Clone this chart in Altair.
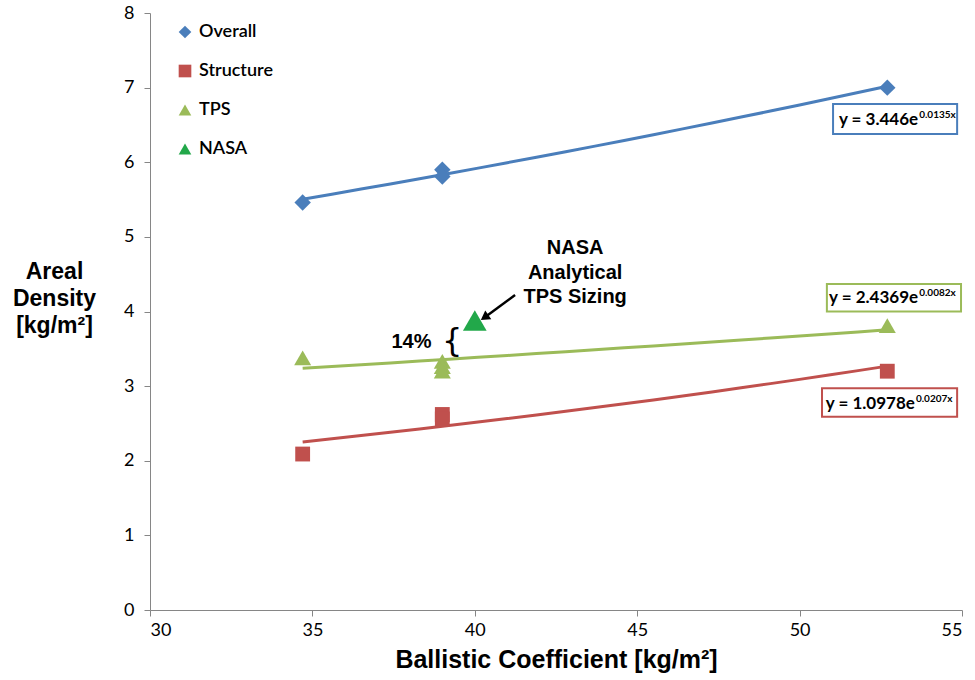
import altair as alt
import pandas as pd

# --- measured points -------------------------------------------------------
series_names = ["Overall", "Structure", "TPS", "NASA"]
series_colors = ["#4A7EBB", "#C0504D", "#9BBB59", "#22A84A"]
series_shapes = ["diamond", "square", "triangle-up", "triangle-up"]
series_sizes = [270, 220, 290, 560]

overall_bc = [34.7, 39.0, 39.0, 52.7]
overall_density = [5.46, 5.90, 5.81, 7.00]

structure_bc = [34.7, 39.0, 39.0, 52.7]
structure_density = [2.09, 2.62, 2.56, 3.20]

tps_bc = [34.7, 39.0, 39.0, 39.0, 52.7]
tps_density = [3.38, 3.33, 3.26, 3.20, 3.81]

nasa_bc = [40.0]
nasa_density = [3.88]

# --- exponential trend lines  y = a * exp(b * x) ---------------------------
trend_series = ["Overall", "Structure", "TPS"]
trend_colors = ["#4A7EBB", "#C0504D", "#9BBB59"]
trend_a = [3.446, 1.0978, 2.4369]
trend_b = [0.0135, 0.0207, 0.0082]
trend_x0 = [34.7, 34.7, 34.7]
trend_x1 = [52.7, 52.7, 52.7]

# equation labels: text, exponent, box corners, anchor
eq_main = ["y = 3.446e", "y = 1.0978e", "y = 2.4369e"]
eq_exp = ["0.0135x", "0.0207x", "0.0082x"]
eq_anchor_x = [53.65, 53.55, 53.65]
eq_y = [6.56, 2.76, 4.18]
box_x0 = [51.03, 50.69, 50.84]
box_x1 = [54.85, 54.85, 54.97]
box_y0 = [6.38, 2.59, 4.00]
box_y1 = [6.78, 2.97, 4.37]

x_ticks = [30, 35, 40, 45, 50, 55]
y_ticks = [0, 1, 2, 3, 4, 5, 6, 7, 8]

points = pd.DataFrame(
    {
        "series": ["Overall"] * len(overall_bc)
        + ["Structure"] * len(structure_bc)
        + ["TPS"] * len(tps_bc)
        + ["NASA"] * len(nasa_bc),
        "bc": overall_bc + structure_bc + tps_bc + nasa_bc,
        "density": overall_density + structure_density + tps_density + nasa_density,
    }
)

trends = pd.DataFrame(
    {
        "series": trend_series,
        "col": trend_colors,
        "a": trend_a,
        "b": trend_b,
        "x0": trend_x0,
        "x1": trend_x1,
    }
)

equations = pd.DataFrame(
    {
        "series": trend_series,
        "col": trend_colors,
        "main": eq_main,
        "exp": eq_exp,
        "ax": eq_anchor_x,
        "ay": eq_y,
        "bx0": box_x0,
        "bx1": box_x1,
        "by0": box_y0,
        "by1": box_y1,
    }
)

x_scale = alt.Scale(domain=[30, 55], nice=False, zero=False)
y_scale = alt.Scale(domain=[0, 8], nice=False)
color_scale = alt.Scale(domain=series_names, range=series_colors)
shape_scale = alt.Scale(domain=series_names, range=series_shapes)

x_axis = alt.Axis(
    values=x_ticks,
    format="d",
    title="Ballistic Coefficient [kg/m²]",
    titleFont="Liberation Sans",
    titleFontSize=25,
    titleFontWeight="bold",
    titleColor="black",
    titleY=57,
    titleBaseline="alphabetic",
    labelFontSize=18,
    labelPadding=5,
)
y_axis = alt.Axis(
    values=y_ticks,
    format="d",
    title=["Areal", "Density", "[kg/m²]"],
    titleAngle=0,
    titleAlign="center",
    titleBaseline="alphabetic",
    titleX=-96,
    titleY=265,
    titleLineHeight=27,
    titleFont="Liberation Sans",
    titleFontSize=23,
    titleFontWeight="bold",
    titleColor="black",
    labelFontSize=18,
    labelPadding=10,
)

legend = alt.Legend(
    title=None,
    orient="none",
    legendX=26,
    legendY=10,
    labelFont="Lato",
    labelFontSize=18,
    labelFontWeight=600,
    labelColor="black",
    symbolSize=160,
    symbolStrokeWidth=0,
    rowPadding=21,
    labelOffset=5,
)

X = alt.X("bc:Q", scale=x_scale, axis=x_axis)
Y = alt.Y("density:Q", scale=y_scale, axis=y_axis)

trend_layer = (
    alt.Chart(trends)
    .transform_calculate(t="sequence(0, 1.0001, 0.05)")
    .transform_flatten(["t"])
    .transform_calculate(bc="datum.x0 + datum.t * (datum.x1 - datum.x0)")
    .transform_calculate(density="datum.a * exp(datum.b * datum.bc)")
    .mark_line(strokeWidth=3)
    .encode(
        x=X,
        y=Y,
        color=alt.Color("col:N", scale=None),
        detail="series:N",
        order="t:Q",
    )
)


def point_layer(size, name=None):
    # one marker layer per series so each keeps its own marker size;
    # the layer without a series name draws nothing and sets the legend's symbols
    base = alt.Chart(points)
    if name is None:
        base = base.transform_filter("false")
    else:
        base = base.transform_filter(alt.datum.series == name)
    return base.mark_point(filled=True, opacity=1, size=size).encode(
        x=X,
        y=Y,
        color=alt.Color("series:N", scale=color_scale, legend=legend),
        shape=alt.Shape("series:N", scale=shape_scale, legend=legend),
    )


point_layers = [point_layer(160)] + [
    point_layer(s, n) for n, s in zip(series_names, series_sizes)
]

box_layer = (
    alt.Chart(equations)
    .mark_rect(fill="white", strokeWidth=2)
    .encode(
        x=alt.X("bx0:Q", scale=x_scale),
        x2="bx1:Q",
        y=alt.Y("by0:Q", scale=y_scale),
        y2="by1:Q",
        stroke=alt.Stroke("col:N", scale=None),
    )
)

eq_main_layer = (
    alt.Chart(equations)
    .mark_text(
        align="right",
        baseline="middle",
        font="Lato",
        fontSize=17,
        fontWeight="bold",
        color="black",
    )
    .encode(x=alt.X("ax:Q", scale=x_scale), y=alt.Y("ay:Q", scale=y_scale), text="main:N")
)

eq_exp_layer = (
    alt.Chart(equations)
    .mark_text(
        align="left",
        baseline="middle",
        font="Lato",
        fontSize=10,
        fontWeight="bold",
        color="black",
        dx=1,
        dy=-5,
    )
    .encode(x=alt.X("ax:Q", scale=x_scale), y=alt.Y("ay:Q", scale=y_scale), text="exp:N")
)

# callout for the analytical sizing point
callout_text = ["NASA\nAnalytical\nTPS Sizing"]
callout_x = [43.09]
callout_y = [4.85]
pct_text = ["14%"]
pct_x = [38.05]
pct_y = [3.59]
brace_x = [39.30]
brace_y = [3.60]
arrow_x = [41.24, 40.30]
arrow_y = [4.22, 3.92]

callout = (
    alt.Chart(pd.DataFrame({"x": callout_x, "y": callout_y, "t": callout_text}))
    .mark_text(
        font="Liberation Sans",
        fontSize=20,
        fontWeight="bold",
        lineBreak="\n",
        lineHeight=24.5,
        align="center",
        baseline="middle",
        color="black",
    )
    .encode(x=alt.X("x:Q", scale=x_scale), y=alt.Y("y:Q", scale=y_scale), text="t:N")
)

pct = (
    alt.Chart(pd.DataFrame({"x": pct_x, "y": pct_y, "t": pct_text}))
    .mark_text(
        font="Liberation Sans",
        fontSize=20,
        fontWeight="bold",
        align="center",
        baseline="middle",
        color="black",
    )
    .encode(x=alt.X("x:Q", scale=x_scale), y=alt.Y("y:Q", scale=y_scale), text="t:N")
)

brace = (
    alt.Chart(pd.DataFrame({"x": brace_x, "y": brace_y, "t": ["{"]}))
    .mark_text(
        font="DejaVu Sans",
        fontSize=32,
        align="center",
        baseline="middle",
        color="black",
    )
    .encode(x=alt.X("x:Q", scale=x_scale), y=alt.Y("y:Q", scale=y_scale), text="t:N")
)

arrow_df = pd.DataFrame({"x": arrow_x, "y": arrow_y, "k": [0, 1]})
arrow_shaft = (
    alt.Chart(arrow_df)
    .mark_line(color="black", strokeWidth=2.5)
    .encode(x=alt.X("x:Q", scale=x_scale), y=alt.Y("y:Q", scale=y_scale), order="k:Q")
)
arrow_head = (
    alt.Chart(arrow_df.iloc[[1]])
    .mark_point(shape="triangle-up", filled=True, color="black", size=110, angle=235, opacity=1)
    .encode(x=alt.X("x:Q", scale=x_scale), y=alt.Y("y:Q", scale=y_scale))
)

chart = (
    alt.layer(
        trend_layer,
        box_layer,
        eq_main_layer,
        eq_exp_layer,
        *point_layers,
        arrow_shaft,
        arrow_head,
        callout,
        pct,
        brace,
    )
    .properties(
        width=812,
        height=597,
        autosize=alt.AutoSizeParams(type="none"),
        padding={"left": 150, "top": 13, "right": 13, "bottom": 70},
        background="white",
    )
    .configure_view(stroke=None)
    .configure_axis(
        grid=False,
        domainColor="#868686",
        tickColor="#868686",
        tickSize=6,
        labelFont="Lato",
        labelColor="black",
    )
)

chart.save("out.html", embed_options={"renderer": "svg", "actions": False})
